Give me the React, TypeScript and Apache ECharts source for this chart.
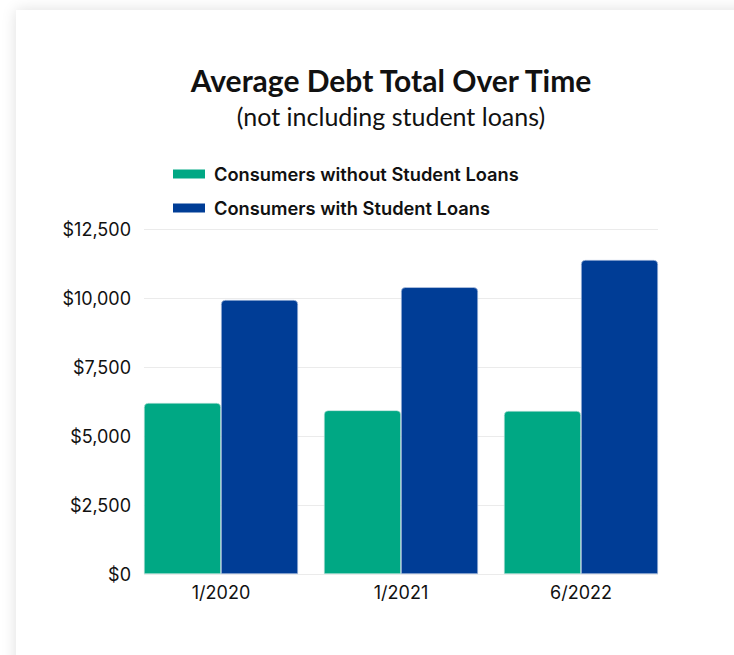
import React, { useEffect, useRef } from "react";
import * as echarts from "echarts";

const categories = ["1/2020", "1/2021", "6/2022"];
const withoutLoans = [6200, 5930, 5910];
const withLoans = [9930, 10390, 11380];
const seriesNames = ["Consumers without Student Loans", "Consumers with Student Loans"];
const yTicks = { min: 0, max: 12500, interval: 2500 };

const GREEN = "#00A884";
const BLUE = "#003D96";
const FONT = "Inter, 'Noto Sans', sans-serif";

export default function App() {
  const ref = useRef<HTMLDivElement>(null);
  useEffect(() => {
    if (!ref.current) return;
    const chart = echarts.init(ref.current, undefined, { renderer: "svg" });
    const fmt = (v: number) => "$" + v.toLocaleString("en-US");
    chart.setOption({
      animation: false,
      title: [
        {
          text: "Average Debt Total Over Time",
          left: 386,
          top: 60,
          textAlign: "center",
          textStyle: { fontFamily: "Lato, sans-serif", fontWeight: "bold", fontSize: 30, color: "#111" },
        },
        {
          text: "(not including student loans)",
          left: 386,
          top: 98,
          textAlign: "center",
          textStyle: { fontFamily: "Lato, sans-serif", fontWeight: "normal", fontSize: 25, color: "#111" },
        },
      ],
      legend: {
        orient: "vertical",
        left: 173,
        top: 165,
        padding: 0,
        itemWidth: 32,
        itemHeight: 9,
        itemGap: 16,
        icon: "rect",
        itemStyle: { borderWidth: 0 },
        textStyle: { fontFamily: FONT, fontWeight: 600, fontSize: 18.3, color: "#111", padding: [0, 0, 0, 4] },
        data: seriesNames,
      },
      grid: [
        { left: 144, top: 229, width: 514, height: 345, containLabel: false },
        { left: 131, top: 229, width: 540, height: 345, containLabel: false },
      ],
      xAxis: [
        { type: "category", gridIndex: 0, data: categories, show: false },
        {
          type: "category",
          gridIndex: 1,
          data: categories,
          axisLine: { show: false },
          axisTick: { show: false },
          axisLabel: { fontFamily: FONT, fontSize: 18, color: "#111", margin: 9 },
        },
      ],
      yAxis: [
        {
          type: "value",
          gridIndex: 0,
          min: yTicks.min,
          max: yTicks.max,
          interval: yTicks.interval,
          axisLine: { show: false },
          axisTick: { show: false },
          axisLabel: { formatter: fmt, fontFamily: FONT, fontSize: 18, color: "#111", margin: 13 },
          splitLine: { lineStyle: { color: "#ebebeb", width: 1 } },
        },
        {
          type: "value",
          gridIndex: 1,
          min: yTicks.min,
          max: yTicks.max,
          interval: yTicks.interval,
          show: false,
          splitLine: { show: false },
        },
      ],
      series: [
        {
          name: seriesNames[0],
          type: "bar",
          xAxisIndex: 1,
          yAxisIndex: 1,
          data: withoutLoans,
          barGap: "0%",
          barCategoryGap: "14.4%",
          itemStyle: { color: GREEN, borderRadius: [4, 4, 0, 0], borderColor: "#cfe9e2", borderWidth: 0.6 },
        },
        {
          name: seriesNames[1],
          type: "bar",
          xAxisIndex: 1,
          yAxisIndex: 1,
          data: withLoans,
          barGap: "0%",
          barCategoryGap: "14.4%",
          itemStyle: { color: BLUE, borderRadius: [4, 4, 0, 0], borderColor: "#c7d3ea", borderWidth: 0.6 },
        },
      ],
    });
    return () => chart.dispose();
  }, []);

  return (
    <div style={{ position: "fixed", left: 0, top: 0, width: 734, height: 655, background: "#fff", overflow: "hidden" }}>
      <div
        style={{
          position: "absolute",
          left: 16,
          top: 10,
          width: 760,
          height: 720,
          background: "#fff",
          boxShadow: "0 0 14px rgba(0,0,0,0.13)",
        }}
      />
      <div ref={ref} style={{ position: "absolute", left: 0, top: 0, width: 734, height: 655 }} />
    </div>
  );
}
